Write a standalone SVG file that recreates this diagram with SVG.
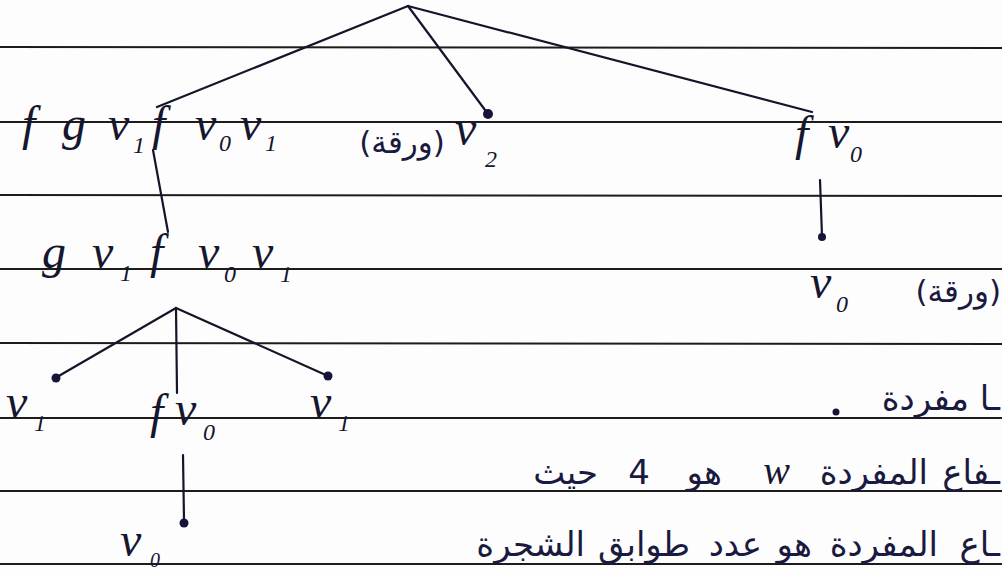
<svg xmlns="http://www.w3.org/2000/svg" width="1002" height="569" viewBox="0 0 1002 569">
<style>
.rule{stroke:#1c1c1c;stroke-width:2.2;fill:none}
.edge{stroke:#15152a;stroke-width:2.2;fill:none;stroke-linecap:round}
.dot{fill:#15153a}
.m{font-family:"Liberation Serif",serif;font-style:italic;font-size:48px;fill:#16162e}
.s{font-family:"Liberation Serif",serif;font-style:italic;font-size:24px;fill:#16162e}
.ar{font-family:"DejaVu Sans",sans-serif;font-size:34px;fill:#1a1a40}
.lf{font-family:"DejaVu Sans",sans-serif;font-size:31px;fill:#1a1a40}
</style>
<rect width="1002" height="569" fill="#fdfdfd"/>
<g id="rules">
<line class="rule" x1="0" y1="47" x2="1002" y2="48"/>
<line class="rule" x1="0" y1="122" x2="1002" y2="122"/>
<line class="rule" x1="0" y1="195" x2="1002" y2="196"/>
<line class="rule" x1="0" y1="269" x2="1002" y2="269"/>
<line class="rule" x1="0" y1="343" x2="1002" y2="344"/>
<line class="rule" x1="0" y1="418" x2="1002" y2="418"/>
<line class="rule" x1="0" y1="491" x2="1002" y2="491"/>
<line class="rule" x1="0" y1="564" x2="1002" y2="564"/>
</g>
<g id="connectors">
<line class="edge" x1="408" y1="6" x2="157" y2="107"/>
<line class="edge" x1="408" y1="6" x2="488" y2="114"/>
<circle class="dot" cx="488" cy="114" r="5"/>
<line class="edge" x1="408" y1="6" x2="812" y2="112"/>
<line class="edge" x1="153" y1="150" x2="168" y2="232"/>
<line class="edge" x1="820" y1="180" x2="822" y2="236"/>
<circle class="dot" cx="822" cy="237" r="4"/>
<line class="edge" x1="176" y1="308" x2="57" y2="377"/>
<circle class="dot" cx="56" cy="378" r="4.5"/>
<line class="edge" x1="176" y1="308" x2="177" y2="393"/>
<line class="edge" x1="176" y1="308" x2="328" y2="376"/>
<circle class="dot" cx="328" cy="376" r="4.5"/>
<line class="edge" x1="183" y1="455" x2="184" y2="520"/>
<circle class="dot" cx="184" cy="523" r="4.5"/>
</g>
<g id="root-expr">
<text class="m" x="22" y="140">f</text>
<text class="m" x="62" y="140">g</text>
<text class="m" x="108" y="140">v</text><text class="s" x="133" y="153">1</text>
<text class="m" x="152" y="140">f</text>
<text class="m" x="195" y="140">v</text><text class="s" x="219" y="151">0</text>
<text class="m" x="240" y="140">v</text><text class="s" x="265" y="151">1</text>
</g>
<g id="leaf-v2">
<text class="lf" x="402" y="153" text-anchor="middle">(ورقة)</text>
<text class="m" x="455" y="145">v</text><text class="s" x="485" y="167">2</text>
</g>
<g id="node-fv0">
<text class="m" x="795" y="150">f</text>
<text class="m" x="828" y="148">v</text><text class="s" x="850" y="162">0</text>
</g>
<g id="leaf-v0-right">
<text class="m" x="810" y="298">v</text><text class="s" x="836" y="312">0</text>
<text class="lf" x="1001" y="302" text-anchor="end">(ورقة)</text>
</g>
<g id="node-gv1">
<text class="m" x="42" y="268">g</text>
<text class="m" x="92" y="268">v</text><text class="s" x="120" y="281">1</text>
<text class="m" x="150" y="268">f</text>
<text class="m" x="198" y="268">v</text><text class="s" x="224" y="282">0</text>
<text class="m" x="252" y="268">v</text><text class="s" x="280" y="282">1</text>
</g>
<g id="leaf-v1-left">
<text class="m" x="6" y="418">v</text><text class="s" x="34" y="431">1</text>
</g>
<g id="node-fv0-mid">
<text class="m" x="150" y="428">f</text>
<text class="m" x="175" y="425">v</text><text class="s" x="203" y="440">0</text>
</g>
<g id="leaf-v1-right">
<text class="m" x="310" y="418">v</text><text class="s" x="338" y="431">1</text>
</g>
<g id="leaf-v0-bottom">
<text class="m" x="120" y="556">v</text><text class="s" x="150" y="567" style="font-size:20px">0</text>
</g>
<g id="notes">
<text class="ar" x="1000" y="410" text-anchor="end">ـا مفردة</text>
<circle class="dot" cx="836" cy="412" r="3.5"/>
<text class="ar" x="1000" y="484" text-anchor="end">ـفاع</text>
<text class="ar" x="928" y="484" text-anchor="end">المفردة</text>
<text class="m" x="790" y="484" text-anchor="end" style="font-size:40px">w</text>
<text class="ar" x="722" y="484" text-anchor="end">هو</text>
<text class="ar" x="650" y="484" text-anchor="end">4</text>
<text class="ar" x="598" y="484" text-anchor="end">حيث</text>
<text class="ar" x="1000" y="556" text-anchor="end">ـاع</text>
<text class="ar" x="938" y="556" text-anchor="end">المفردة</text>
<text class="ar" x="812" y="556" text-anchor="end">هو</text>
<text class="ar" x="762" y="556" text-anchor="end">عدد</text>
<text class="ar" x="690" y="556" text-anchor="end">طوابق</text>
<text class="ar" x="585" y="556" text-anchor="end">الشجرة</text>
</g>
</svg>
